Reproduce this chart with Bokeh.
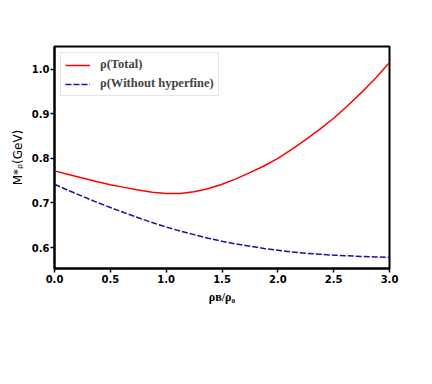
from bokeh.plotting import figure
from bokeh.models import Range1d, Legend, LegendItem, FixedTicker, PrintfTickFormatter
from bokeh.embed import file_html
from bokeh.resources import INLINE

# data
density = [0.0, 0.125, 0.25, 0.375, 0.5, 0.625, 0.75, 0.875, 1.0, 1.125, 1.25, 1.375, 1.5,
           1.625, 1.75, 1.875, 2.0, 2.125, 2.25, 2.375, 2.5, 2.625, 2.75, 2.875, 3.0]
mass_total = [0.772, 0.764, 0.756, 0.748, 0.741, 0.735, 0.729, 0.724, 0.721, 0.721, 0.725, 0.732, 0.742,
              0.754, 0.768, 0.783, 0.800, 0.820, 0.842, 0.865, 0.890, 0.918, 0.948, 0.980, 1.015]
mass_no_hf = [0.742, 0.728, 0.715, 0.702, 0.690, 0.678, 0.667, 0.656, 0.646, 0.637, 0.629, 0.621, 0.614,
              0.608, 0.603, 0.598, 0.594, 0.590, 0.587, 0.585, 0.583, 0.5815, 0.580, 0.579, 0.578]
x_ticks = [0.0, 0.5, 1.0, 1.5, 2.0, 2.5, 3.0]
y_ticks = [0.6, 0.7, 0.8, 0.9, 1.0]
legend_labels = ["ρ(Total)", "ρ(Without hyperfine)"]
x_label = "ρʙ/ρ₀"
y_label = "M*ᵨ(GeV)"
x_min, x_max = 0.0, 3.0
y_min, y_max = 0.553, 1.051

p = figure(frame_width=335, frame_height=222,
           min_border_left=54, min_border_right=27, min_border_top=46, min_border_bottom=100,
           x_range=Range1d(x_min, x_max), y_range=Range1d(y_min, y_max),
           output_backend="svg", toolbar_location=None, background_fill_color="white",
           border_fill_color="white")
p.grid.visible = False
p.outline_line_color = "black"
p.outline_line_width = 2

for ax, ticks in ((p.xaxis, x_ticks), (p.yaxis, y_ticks)):
    ax.ticker = FixedTicker(ticks=ticks)
    ax.formatter = PrintfTickFormatter(format="%.1f")
    ax.axis_line_width = 2
    ax.axis_line_color = "black"
    ax.major_tick_line_width = 1.5
    ax.major_tick_out = 4
    ax.major_tick_in = 0
    ax.minor_tick_line_color = None
    ax.major_label_text_font = "DejaVu Sans"
    ax.major_label_text_font_style = "bold"
    ax.major_label_text_font_size = "10px"
    ax.major_label_text_color = "black"
    ax.axis_label_text_color = "black"
p.xaxis.major_label_standoff = 2
p.yaxis.major_label_standoff = 1

p.xaxis.axis_label = x_label
p.xaxis.axis_label_text_font = "Liberation Serif"
p.xaxis.axis_label_text_font_style = "bold"
p.xaxis.axis_label_text_font_size = "12px"
p.xaxis.axis_label_standoff = 4

p.yaxis.axis_label = y_label
p.yaxis.axis_label_text_font = "DejaVu Sans"
p.yaxis.axis_label_text_font_style = "normal"
p.yaxis.axis_label_text_font_size = "12px"
p.yaxis.axis_label_standoff = 4

r1 = p.line(density, mass_total, line_color="#ff0000", line_width=1.5)
r2 = p.line(density, mass_no_hf, line_color="#1414a0", line_width=1.5, line_dash="6 2")

legend = Legend(items=[LegendItem(label=legend_labels[0], renderers=[r1]),
                       LegendItem(label=legend_labels[1], renderers=[r2])],
                location="top_left", margin=6, padding=4, spacing=4,
                label_height=14, glyph_height=14, glyph_width=25, label_standoff=10,
                label_text_font="Liberation Serif", label_text_font_style="bold",
                label_text_font_size="12.5px", border_line_color="#cccccc",
                border_line_width=1, background_fill_alpha=0.8)
p.add_layout(legend)

open("out.html", "w").write(file_html(p, INLINE))
